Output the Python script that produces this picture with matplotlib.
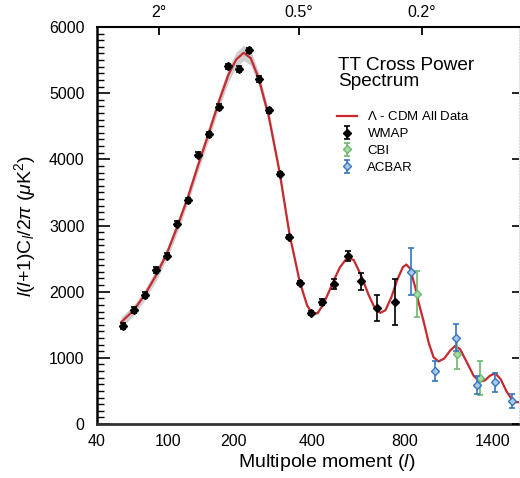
import numpy as np
import matplotlib
matplotlib.use("Agg")
import matplotlib.pyplot as plt

plt.rcParams['font.family'] = ['Liberation Sans', 'DejaVu Sans']
plt.rcParams['mathtext.fontset'] = 'custom'
plt.rcParams['mathtext.rm'] = 'Liberation Sans'
plt.rcParams['mathtext.it'] = 'Liberation Sans:italic'

# WMAP binned points
wmap_l = [57, 66, 76, 87, 99, 111, 125, 139, 156, 173, 190, 210, 231, 253, 277,
          305, 332, 362, 396, 434, 477, 530, 586, 659, 750]
wmap_val = [1481, 1723, 1950, 2327, 2543, 3027, 3381, 4073, 4378, 4791, 5406, 5365,
            5648, 5214, 4741, 3778, 2826, 2126, 1673, 1844, 2116, 2539, 2154, 1749, 1839]
wmap_err = [40, 40, 40, 40, 40, 40, 40, 40, 40, 40, 40, 40, 40, 40, 40,
            35, 30, 30, 30, 45, 70, 75, 125, 195, 350]

# CBI
cbi_l = [871, 1130, 1296]
cbi_val = [1969, 1058, 691]
cbi_err = [350, 225, 255]

# ACBAR
acbar_l = [838, 981, 1124, 1275, 1423, 1574]
acbar_val = [2302, 801, 1304, 589, 630, 352]
acbar_err = [355, 150, 200, 135, 140, 105]

# Lambda-CDM model curve
model_l = [56, 66, 76, 87, 99, 111, 125, 139, 156, 173, 190, 205, 220, 235, 253, 277,
           305, 332, 362, 385, 403, 420, 440, 460, 480, 500, 528, 555, 586, 620, 650,
           675, 700, 730, 760, 790, 809, 830, 860, 880, 908, 940, 970, 1002, 1040, 1080,
           1114, 1150, 1200, 1250, 1296, 1340, 1380, 1423, 1470, 1520, 1574, 1610, 1640]
model_val = [1540, 1720, 1960, 2250, 2590, 2980, 3430, 3900, 4400, 4880, 5280, 5510,
             5610, 5530, 5220, 4650, 3800, 2870, 2150, 1790, 1660, 1680, 1820, 2010,
             2200, 2370, 2510, 2480, 2250, 1950, 1740, 1680, 1720, 1920, 2180, 2370,
             2410, 2350, 2060, 1830, 1560, 1230, 1010, 945, 990, 1110, 1180, 1130, 930,
             730, 640, 660, 730, 765, 680, 500, 360, 330, 330]
# cosmic variance band half width
band_hw = [80, 80, 80, 85, 85, 90, 90, 95, 100, 105, 110, 115, 115, 110, 100, 90,
           75, 55, 40, 30, 25, 20, 0, 0, 0, 0, 0, 0, 0, 0, 0, 0, 0, 0, 0, 0, 0, 0,
           0, 0, 0, 0, 0, 0, 0, 0, 0, 0, 0, 0, 0, 0, 0, 0, 0, 0, 0, 0, 0]

xticks = [40, 100, 200, 400, 800, 1400]
top_ticks = [90, 360, 900]
top_labels = ['2°', '0.5°', '0.2°']

def fwd(x):
    return np.abs(x) ** 0.25

def inv(x):
    return np.abs(x) ** 4

fig = plt.figure(figsize=(5.2, 4.78), dpi=100)
ax = fig.add_axes([97/520, 54/478, 422/520, 397/478])
ax.set_xscale('function', functions=(fwd, inv))
ax.set_xlim(40, 1636)
ax.set_ylim(0, 6000)

mv = np.array(model_val)
hw = np.array(band_hw)
ax.fill_between(model_l, mv - hw, mv + hw, color='#cfcfcf', lw=0, zorder=1)
ax.plot(model_l, model_val, color='#c62a2f', lw=1.6, zorder=2, label=r'$\Lambda$ - CDM All Data')

ax.errorbar(wmap_l, wmap_val, yerr=wmap_err, fmt='D', color='black', ms=4.5,
            elinewidth=1.2, capsize=2.5, capthick=1.2, zorder=3, label='WMAP')
ax.errorbar(cbi_l, cbi_val, yerr=cbi_err, fmt='D', color='#6cb86c', ms=4, mfc='#a8dba8',
            elinewidth=1.2, capsize=2.5, capthick=1.2, zorder=3, label='CBI')
ax.errorbar(acbar_l, acbar_val, yerr=acbar_err, fmt='D', color='#3576bd', ms=4, mfc='#a9c8ea',
            elinewidth=1.2, capsize=2.5, capthick=1.2, zorder=4, label='ACBAR')

# axes styling
ax.spines['left'].set_linewidth(1.8)
ax.spines['bottom'].set_linewidth(2.0)
ax.spines['bottom'].set_color('#333333')
ax.spines['top'].set_linewidth(1.5)
ax.spines['right'].set_color('#dcdcdc')
ax.spines['right'].set_linestyle(':')

ax.set_xticks(xticks)
ax.set_xticklabels([str(t) for t in xticks])
ax.xaxis.set_minor_locator(matplotlib.ticker.NullLocator())
ax.tick_params(axis='x', length=0, labelsize=11.5, pad=7)
ax.set_yticks(np.arange(0, 6001, 1000))
ax.set_yticks(np.arange(0, 6001, 100), minor=True)
ax.tick_params(axis='y', which='major', direction='in', length=9, width=1.2,
               labelsize=11.5, pad=9, right=False)
ax.tick_params(axis='y', which='minor', direction='in', length=5, width=1.0, right=False)

ax.set_xlabel('Multipole moment ($l$)', fontsize=14)
ax.xaxis.set_label_coords((327 - 97) / 422, -0.07)
ax.set_ylabel(r'$l$($l$+1)C$_l$/2$\pi$ ($\mu$K$^2$)', fontsize=14, labelpad=8)

# top axis in angular scale
axt = ax.twiny()
axt.set_xscale('function', functions=(fwd, inv))
axt.set_xlim(ax.get_xlim())
axt.set_xticks(top_ticks)
axt.set_xticklabels(top_labels)
axt.xaxis.set_minor_locator(matplotlib.ticker.NullLocator())
axt.tick_params(axis='x', direction='in', length=6, width=1.3, labelsize=11.5, pad=5)
for s in axt.spines.values():
    s.set_visible(False)

# right side ticks
axr = ax.twinx()
axr.set_ylim(0, 6000)
axr.set_yticks(np.arange(0, 6001, 1000))
axr.tick_params(axis='y', direction='in', length=5, width=1.2, labelright=False)
for s in axr.spines.values():
    s.set_visible(False)

ax.text(0.571, 0.925, 'TT Cross Power\nSpectrum', transform=ax.transAxes,
        fontsize=13.7, va='top', ha='left', linespacing=0.95)
ax.legend(loc='upper left', bbox_to_anchor=(0.569, 0.79), frameon=False, fontsize=9.5,
          handlelength=1.5, handletextpad=0.8, labelspacing=0.35, borderpad=0,
          borderaxespad=0)

fig.savefig('out.png', dpi=100)
